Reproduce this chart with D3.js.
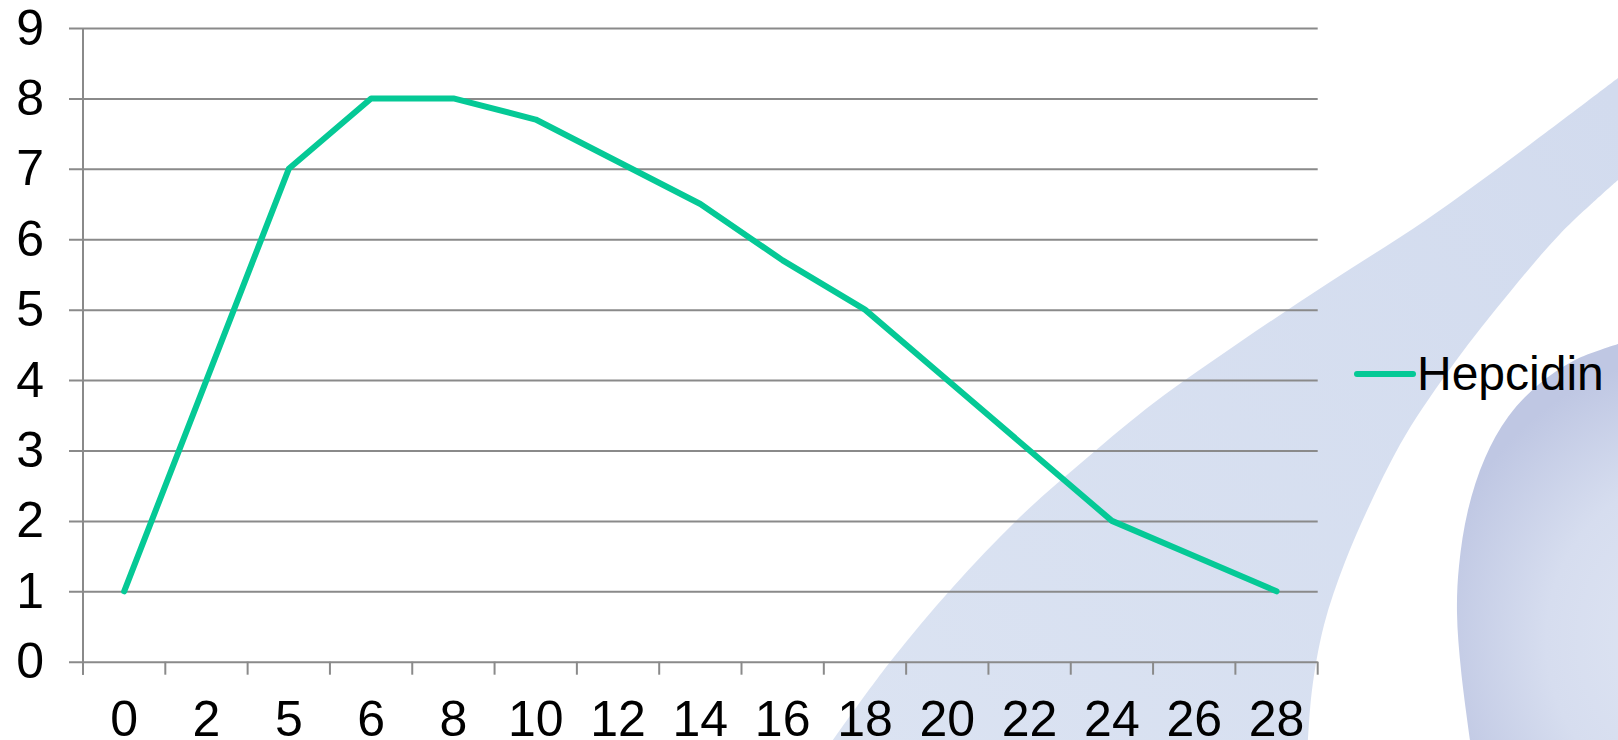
<!DOCTYPE html>
<html>
<head>
<meta charset="utf-8">
<script src="https://cdn.jsdelivr.net/npm/d3@7"></script>
<style>
  html, body { margin: 0; padding: 0; background: #ffffff; }
  svg { display: block; }
  text { font-family: "Liberation Sans", Arial, sans-serif; fill: #000; }
</style>
</head>
<body>
<svg id="chart" width="1618" height="740"></svg>
<script>
// ---- data ----
const categories = ["0", "2", "5", "6", "8", "10", "12", "14", "16", "18", "20", "22", "24", "26", "28"];
const hepcidin = [1, 4, 7, 8, 8, 7.7, 7.1, 6.5, 5.7, 5, 4, 3, 2, 1.5, 1];
const yTicks = [0, 1, 2, 3, 4, 5, 6, 7, 8, 9];
const seriesName = "Hepcidin";

// ---- decorative background outlines (page art, not data) ----
const swooshOuter = [[833,740],[890,662],[953,587],[1020,517],[1088,457],[1155,402],[1240,342],[1330,282],[1426,220],[1520,152],[1618,78]];
const swooshInner = [[1618,180],[1560,234],[1510,292],[1455,362],[1405,436],[1372,500],[1345,562],[1324,625],[1312,690],[1308,740]];
const circleEdge = [[1618,344],[1575,360],[1538,385],[1508,417],[1485,458],[1468,510],[1459,566],[1457,613],[1461,670],[1470,740]];

const svg = d3.select("#chart");
const W = 1618, H = 740;
const plot = { left: 83, right: 1317.7, top: 28, bottom: 661.7 };

// background
const defs = svg.append("defs");
const rg = defs.append("radialGradient").attr("id", "circG")
  .attr("gradientUnits", "userSpaceOnUse")
  .attr("cx", 1720).attr("cy", 640).attr("r", 290);
rg.append("stop").attr("offset", "0%").attr("stop-color", "#e1e7f4");
rg.append("stop").attr("offset", "60%").attr("stop-color", "#d6ddef");
rg.append("stop").attr("offset", "100%").attr("stop-color", "#bfc7e3");
const lg = defs.append("linearGradient").attr("id", "swG")
  .attr("gradientUnits", "userSpaceOnUse")
  .attr("x1", 850).attr("y1", 740).attr("x2", 1618).attr("y2", 100);
lg.append("stop").attr("offset", "0%").attr("stop-color", "#dbe3f2");
lg.append("stop").attr("offset", "100%").attr("stop-color", "#d2dbee");

svg.append("rect").attr("width", W).attr("height", H).attr("fill", "#fff");

const curve = d3.line().curve(d3.curveCatmullRom.alpha(0.5));
const swPath = curve(swooshOuter) + "L" + curve(swooshInner).slice(1) + "Z";
svg.append("path").attr("d", swPath).attr("fill", "url(#swG)");
const cPath = curve(circleEdge) + "L1618,740Z";
svg.append("path").attr("d", cPath).attr("fill", "url(#circG)");

// scales
const x = d3.scaleBand().domain(categories).range([plot.left, plot.right]).padding(0);
const y = d3.scaleLinear().domain([0, 9]).range([plot.bottom, plot.top]);

const gridColor = "#8a8a8a";
const tickFont = 50;

// y axis with gridlines
const yAxis = d3.axisLeft(y).tickValues(yTicks).tickFormat(d3.format("d"))
  .tickSize(-(plot.right - 69)).tickPadding(25);
const gy = svg.append("g").attr("transform", "translate(69,0)").call(yAxis);
gy.select(".domain").remove();
gy.selectAll(".tick line").attr("stroke", gridColor).attr("stroke-width", 2);
gy.selectAll(".tick text").attr("font-size", tickFont).attr("font-family", "Liberation Sans, Arial, sans-serif").attr("fill", "#000");

// vertical axis line
svg.append("line").attr("x1", plot.left).attr("x2", plot.left)
  .attr("y1", plot.top).attr("y2", plot.bottom + 13)
  .attr("stroke", gridColor).attr("stroke-width", 2);

// x axis labels
const xAxis = d3.axisBottom(x).tickSize(0).tickPadding(39);
const gx = svg.append("g").attr("transform", `translate(0,${plot.bottom})`).call(xAxis);
gx.select(".domain").remove();
gx.selectAll(".tick text").attr("font-size", tickFont).attr("font-family", "Liberation Sans, Arial, sans-serif").attr("fill", "#000");

// x axis tick marks at category boundaries
const bounds = categories.map(c => x(c)).concat([x.range()[1]]);
svg.append("g").selectAll("line").data(bounds).join("line")
  .attr("x1", d => d).attr("x2", d => d)
  .attr("y1", plot.bottom).attr("y2", plot.bottom + 13)
  .attr("stroke", gridColor).attr("stroke-width", 2);

// line series
const lineColor = "#05c996";
const line = d3.line()
  .x((d, i) => x(categories[i]) + x.bandwidth() / 2)
  .y(d => y(d));
svg.append("path").datum(hepcidin).attr("d", line)
  .attr("fill", "none").attr("stroke", lineColor).attr("stroke-width", 6)
  .attr("stroke-linejoin", "round").attr("stroke-linecap", "round");

// legend
const lgd = svg.append("g").attr("transform", "translate(1357,374)");
lgd.append("line").attr("x1", 0).attr("x2", 56).attr("y1", 0).attr("y2", 0)
  .attr("stroke", lineColor).attr("stroke-width", 6).attr("stroke-linecap", "round");
lgd.append("text").attr("x", 60).attr("y", 16).attr("font-size", 48).text(seriesName);
</script>
</body>
</html>
